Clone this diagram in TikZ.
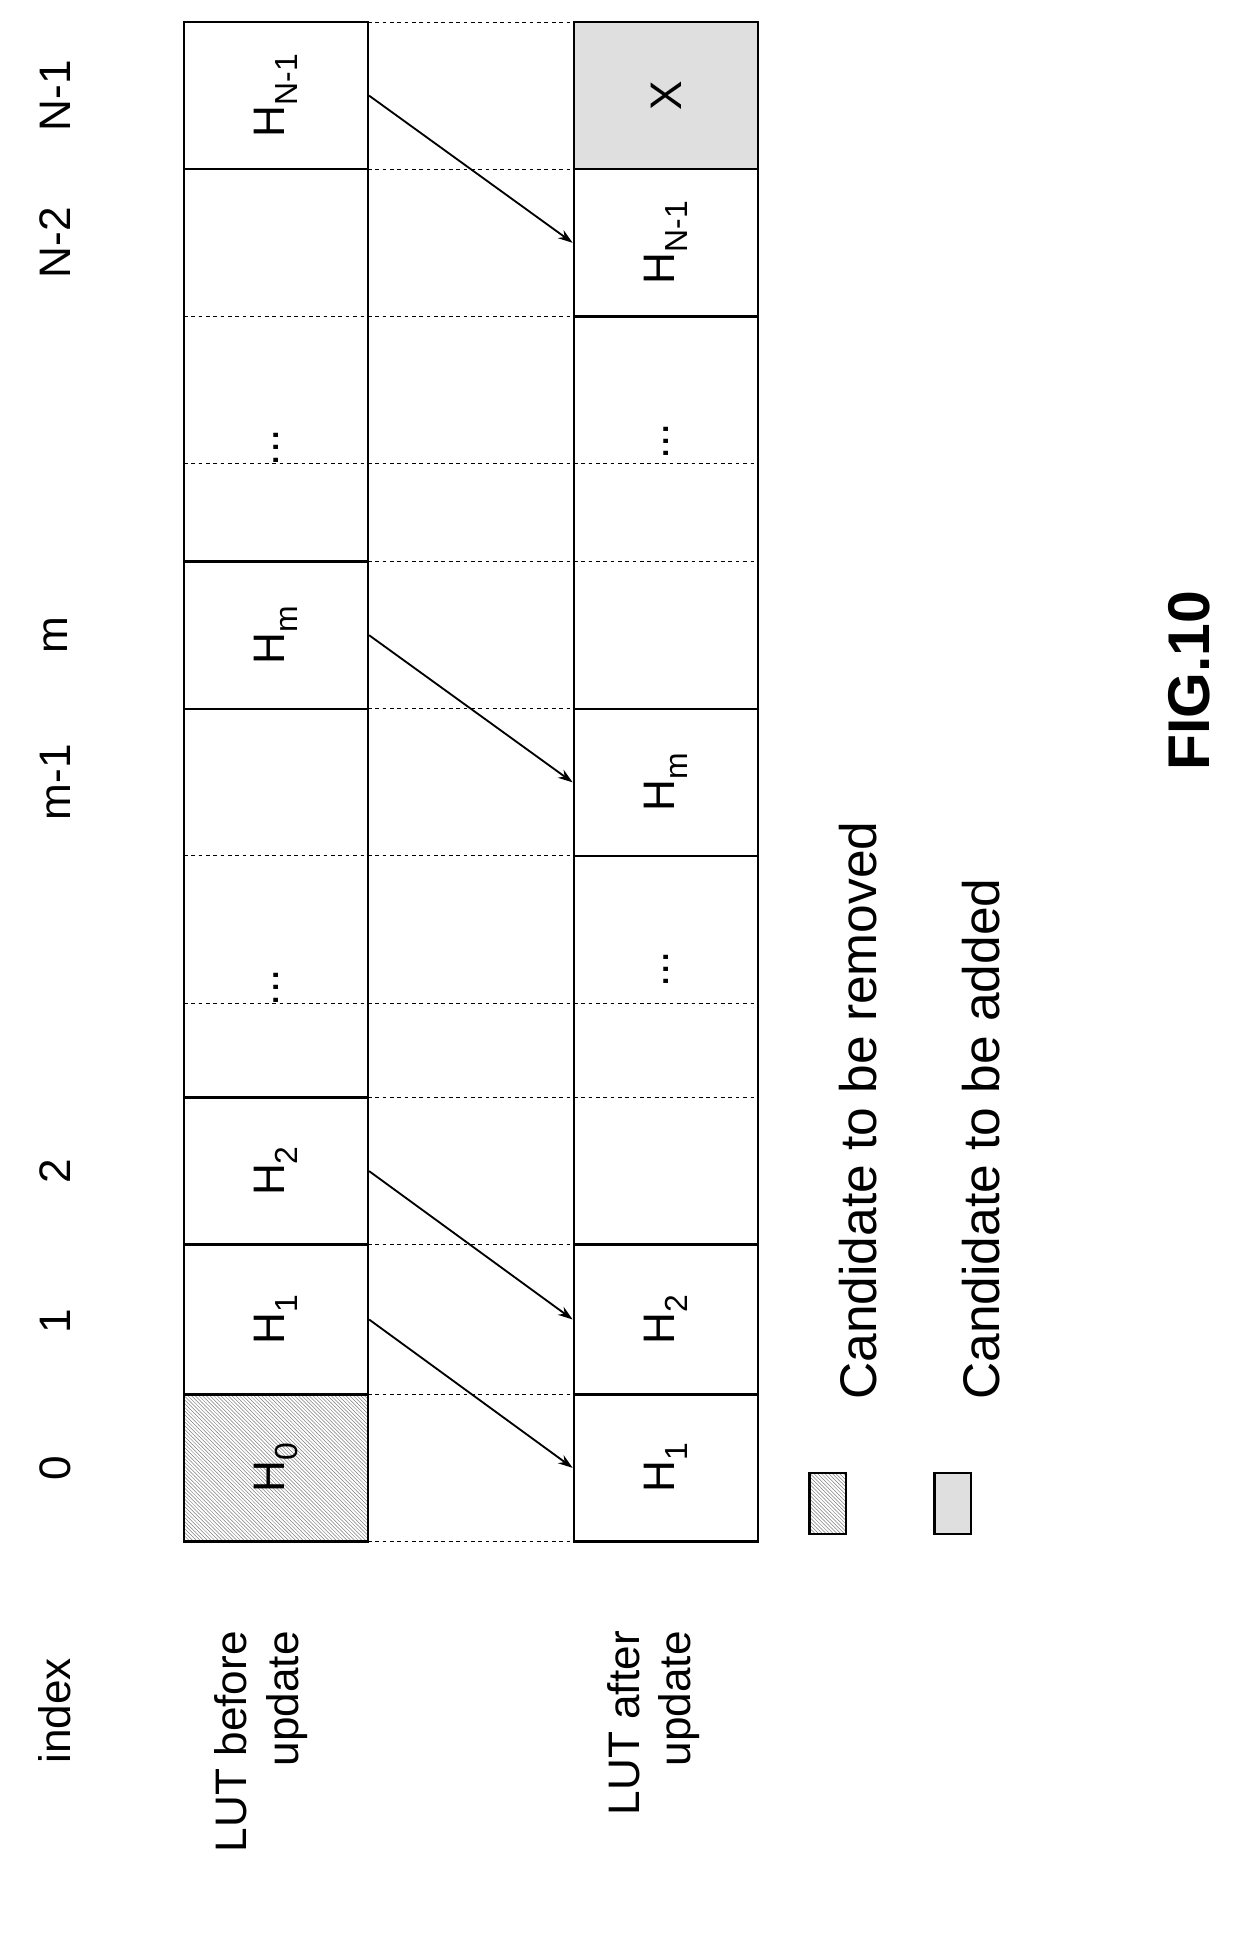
\documentclass[tikz,border=0pt]{standalone}
\usepackage{fontspec}
\setmainfont{Liberation Sans}
\usetikzlibrary{patterns,arrows.meta}
\newcommand{\sbs}[1]{\raisebox{-0.3em}{\fontsize{26}{30}\selectfont #1}}
\begin{document}
\begin{tikzpicture}[x=1pt,y=-1pt,
  cell/.style={draw,line width=2pt,minimum width=150pt,inner sep=0pt},
  lab/.style={rotate=90,font=\fontsize{36}{42}\selectfont},
  arr/.style={line width=1.5pt,-{Stealth[length=12pt,width=8pt]}}]
\useasboundingbox (0,0) rectangle (1024,1582);
% dashed guides
\foreach \y in {18,138,258,378,458,578,698,818,895,1015,1137,1257}
  \draw[dashed,line width=0.8pt] (150,\y) -- (618,\y);
% left table
\node[cell,minimum height=120pt] (lN1) at (225,78) {};
\node[cell,minimum height=320pt] (lA) at (225,298) {};
\node[cell,minimum height=120pt] (lm) at (225,518) {};
\node[cell,minimum height=317pt] (lB) at (225,736.5) {};
\node[cell,minimum height=120pt] (l2) at (225,955) {};
\node[cell,minimum height=122pt] (l1) at (225,1076) {};
\node[cell,minimum height=120pt,pattern=north west lines,pattern color=gray] (l0) at (225,1197) {};
\foreach \y in {258,378,698,818} \draw[dashed,line width=0.8pt] (150,\y) -- (300,\y);
% right table
\node[cell,minimum height=120pt,fill=gray!25] (rN1) at (543,78) {};
\node[cell,minimum height=120pt] (rN2) at (543,198) {};
\node[cell,minimum height=320pt] (rA) at (543,418) {};
\node[cell,minimum height=120pt] (rm) at (543,638) {};
\node[cell,minimum height=317pt] (rB) at (543,856.5) {};
\node[cell,minimum height=122pt] (r2) at (543,1076) {};
\node[cell,minimum height=120pt] (r1) at (543,1197) {};
\foreach \y in {378,458,818,895} \draw[dashed,line width=0.8pt] (468,\y) -- (618,\y);
% cell texts
\node[lab] at (lN1) {H\sbs{N-1}};
\node[lab] at ([yshift=-67pt]lA.center) {...};
\node[lab] at (lm) {H\sbs{m}};
\node[lab] at ([yshift=-69pt]lB.center) {...};
\node[lab] at (l2) {H\sbs{2}};
\node[lab] at (l1) {H\sbs{1}};
\node[lab] at (l0) {H\sbs{0}};
\node[lab] at (rN1) {X};
\node[lab] at (rN2) {H\sbs{N-1}};
\node[lab] at ([yshift=58pt]rA.center) {...};
\node[lab] at (rm) {H\sbs{m}};
\node[lab] at ([yshift=66pt]rB.center) {...};
\node[lab] at (r2) {H\sbs{2}};
\node[lab] at (r1) {H\sbs{1}};
% arrows
\draw[arr] (lN1.east) -- (rN2.west);
\draw[arr] (lm.east) -- (rm.west);
\draw[arr] (l2.east) -- (r2.west);
\draw[arr] (l1.east) -- (r1.west);
% index labels
\node[lab] (iN1) at (45,78) {N-1};
\node[lab] (iN2) at (45,198) {N-2};
\node[lab] (im) at (45,518) {m};
\node[lab] (im1) at (45,638) {m-1};
\node[lab] (i2) at (45,955) {2};
\node[lab] (i1) at (45,1077) {1};
\node[lab] (i0) at (45,1197) {0};
\node[lab] (idx) at (45,1395) {index};
\node[lab,align=right,anchor=north east,inner sep=0pt] (lutb) at (175,1330) {LUT before\\update};
\node[lab,align=right,anchor=north east,inner sep=0pt] (luta) at (495,1330) {LUT after\\update};
% legend
\node[draw,line width=2pt,minimum width=30pt,minimum height=50pt,pattern=north west lines,pattern color=gray] (lg1) at (675,1226) {};
\node[draw,line width=2pt,minimum width=30pt,minimum height=50pt,fill=gray!25] (lg2) at (777,1226) {};
\node[lab,anchor=west,font=\fontsize{42}{48}\selectfont] (t1) at (700,1145) {Candidate to be removed};
\node[lab,anchor=west,font=\fontsize{42}{48}\selectfont] (t2) at (800,1145) {Candidate to be added};
\node[lab,font=\fontsize{48}{54}\selectfont\bfseries] (fig) at (970,555) {FIG.10};
\end{tikzpicture}
\end{document}
